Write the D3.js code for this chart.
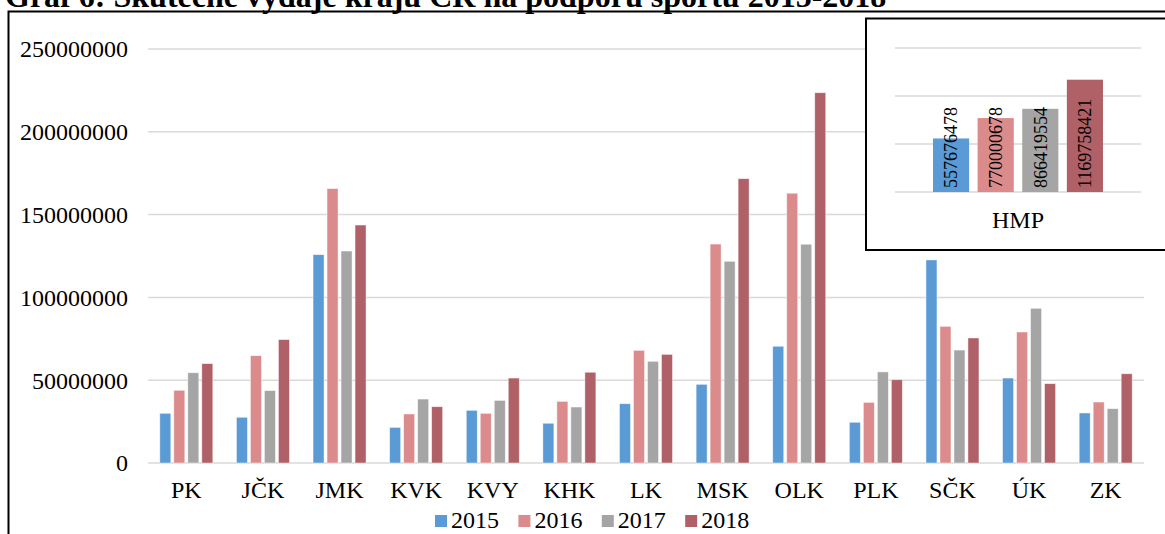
<!DOCTYPE html>
<html>
<head>
<meta charset="utf-8">
<script src="https://cdn.jsdelivr.net/npm/d3@7/dist/d3.min.js"></script>
<style>
  body { margin: 0; background: #fff; }
  svg { display: block; font-family: "Liberation Serif", "Times New Roman", serif; }
</style>
</head>
<body>
<script>
// data
var regions = ["PK", "JČK", "JMK", "KVK", "KVY", "KHK", "LK", "MSK", "OLK", "PLK", "SČK", "ÚK", "ZK"];
var years = ["2015", "2016", "2017", "2018"];
var v2015 = [30.0, 27.6, 125.8, 21.5, 31.8, 24.0, 35.8, 47.5, 70.5, 24.6, 122.6, 51.3, 30.2];
var v2016 = [43.9, 64.8, 165.7, 29.6, 30.0, 37.2, 68.0, 132.2, 162.9, 36.6, 82.5, 79.1, 36.8];
var v2017 = [54.5, 43.7, 128.0, 38.6, 37.8, 33.8, 61.4, 121.8, 132.1, 55.0, 68.2, 93.4, 32.8];
var v2018 = [60.0, 74.5, 143.7, 34.0, 51.3, 54.8, 65.6, 171.7, 223.6, 50.3, 75.5, 47.9, 53.9];
var yTicks = [0, 50000000, 100000000, 150000000, 200000000, 250000000];

// Prague shown separately in the inset
var hmpLabel = "HMP";
var hmpValues = [557676478, 770000678, 866419554, 1169758421];
var hmpTicks = [0, 500000000, 1000000000, 1500000000];

var title = "Graf 6: Skutečné výdaje krajů ČR na podporu sportu 2015-2018";

var colors = ["#5B9BD5", "#DB8B8B", "#A5A5A5", "#B06167"];
var series = [v2015, v2016, v2017, v2018];

var width = 1165, height = 534;

var svg = d3.select("body").append("svg")
    .attr("width", width)
    .attr("height", height);

// title, mostly cut off at the top
var t = svg.append("text")
    .attr("x", 5)
    .attr("y", 7)
    .style("font-weight", "bold")
    .style("font-size", "30px")
    .text(title);
var len = t.node().getComputedTextLength();
t.style("font-size", (30 * 882 / len) + "px");

// outer frame
svg.append("rect")
    .attr("x", 8.5).attr("y", 11.5)
    .attr("width", 1200).attr("height", 600)
    .attr("fill", "none")
    .attr("stroke", "#000")
    .attr("stroke-width", 2);

// main scales
var x0 = d3.scaleBand().domain(regions).range([148, 1144]);
var x1 = d3.scaleBand().domain(years).range([-26.5, 26.5]).paddingInner(3 / 14);
var y = d3.scaleLinear().domain([0, 250000000]).range([463, 49]);

// gridlines
svg.append("g").selectAll("line")
    .data(yTicks)
  .enter().append("line")
    .attr("x1", 148).attr("x2", 1144)
    .attr("y1", function(d) { return y(d); })
    .attr("y2", function(d) { return y(d); })
    .attr("stroke", "#D9D9D9")
    .attr("stroke-width", 1.5);

// y labels
svg.append("g").selectAll("text")
    .data(yTicks)
  .enter().append("text")
    .attr("x", 128)
    .attr("y", function(d) { return y(d); })
    .attr("dy", "0.35em")
    .attr("text-anchor", "end")
    .style("font-size", "24px")
    .text(function(d) { return d; });

// bars
var groups = svg.append("g").selectAll("g")
    .data(regions)
  .enter().append("g")
    .attr("transform", function(d) { return "translate(" + (x0(d) + x0.bandwidth() / 2) + ",0)"; });

groups.selectAll("rect")
    .data(function(d, i) {
      return series.map(function(s, j) { return {year: years[j], value: s[i] * 1e6, color: colors[j]}; });
    })
  .enter().append("rect")
    .attr("x", function(d) { return x1(d.year); })
    .attr("width", x1.bandwidth())
    .attr("y", function(d) { return y(d.value); })
    .attr("height", function(d) { return y(0) - y(d.value); })
    .attr("fill", function(d) { return d.color; })
    .attr("stroke", "#fff")
    .attr("stroke-opacity", 0.6)
    .attr("stroke-width", 0.75);

// category labels
svg.append("g").selectAll("text")
    .data(regions)
  .enter().append("text")
    .attr("x", function(d) { return x0(d) + x0.bandwidth() / 2; })
    .attr("y", 498)
    .attr("text-anchor", "middle")
    .style("font-size", "24px")
    .text(function(d) { return d; });

// legend
var legend = svg.append("g").selectAll("g")
    .data(years)
  .enter().append("g")
    .attr("transform", function(d, i) { return "translate(" + (435 + i * 83.4) + ",0)"; });
legend.append("rect")
    .attr("y", 515).attr("width", 12).attr("height", 12)
    .attr("fill", function(d, i) { return colors[i]; });
legend.append("text")
    .attr("x", 16).attr("y", 528)
    .style("font-size", "24px")
    .text(function(d) { return d; });

// inset for HMP
svg.append("rect")
    .attr("x", 866).attr("y", 18.5)
    .attr("width", 320).attr("height", 231.5)
    .attr("fill", "#fff")
    .attr("stroke", "#000")
    .attr("stroke-width", 2);

var ix = d3.scaleBand().domain(years).range([933, 1103]).paddingInner(0.19);
var iy = d3.scaleLinear().domain([0, 1500000000]).range([192, 48]);

svg.append("g").selectAll("line")
    .data(hmpTicks)
  .enter().append("line")
    .attr("x1", 895).attr("x2", 1141)
    .attr("y1", function(d) { return iy(d); })
    .attr("y2", function(d) { return iy(d); })
    .attr("stroke", "#D9D9D9")
    .attr("stroke-width", 1.5);

svg.append("g").selectAll("rect")
    .data(hmpValues)
  .enter().append("rect")
    .attr("x", function(d, i) { return ix(years[i]); })
    .attr("width", ix.bandwidth())
    .attr("y", function(d) { return iy(d); })
    .attr("height", function(d) { return iy(0) - iy(d); })
    .attr("fill", function(d, i) { return colors[i]; });

svg.append("g").selectAll("text")
    .data(hmpValues)
  .enter().append("text")
    .attr("transform", function(d, i) {
      return "translate(" + (ix(years[i]) + ix.bandwidth() / 2) + "," + (iy(0) - 4) + ") rotate(-90)";
    })
    .attr("dy", "0.35em")
    .style("font-size", "18px")
    .text(function(d) { return d; });

svg.append("text")
    .attr("x", (895 + 1141) / 2)
    .attr("y", 228)
    .attr("text-anchor", "middle")
    .style("font-size", "24px")
    .text(hmpLabel);
</script>
</body>
</html>
